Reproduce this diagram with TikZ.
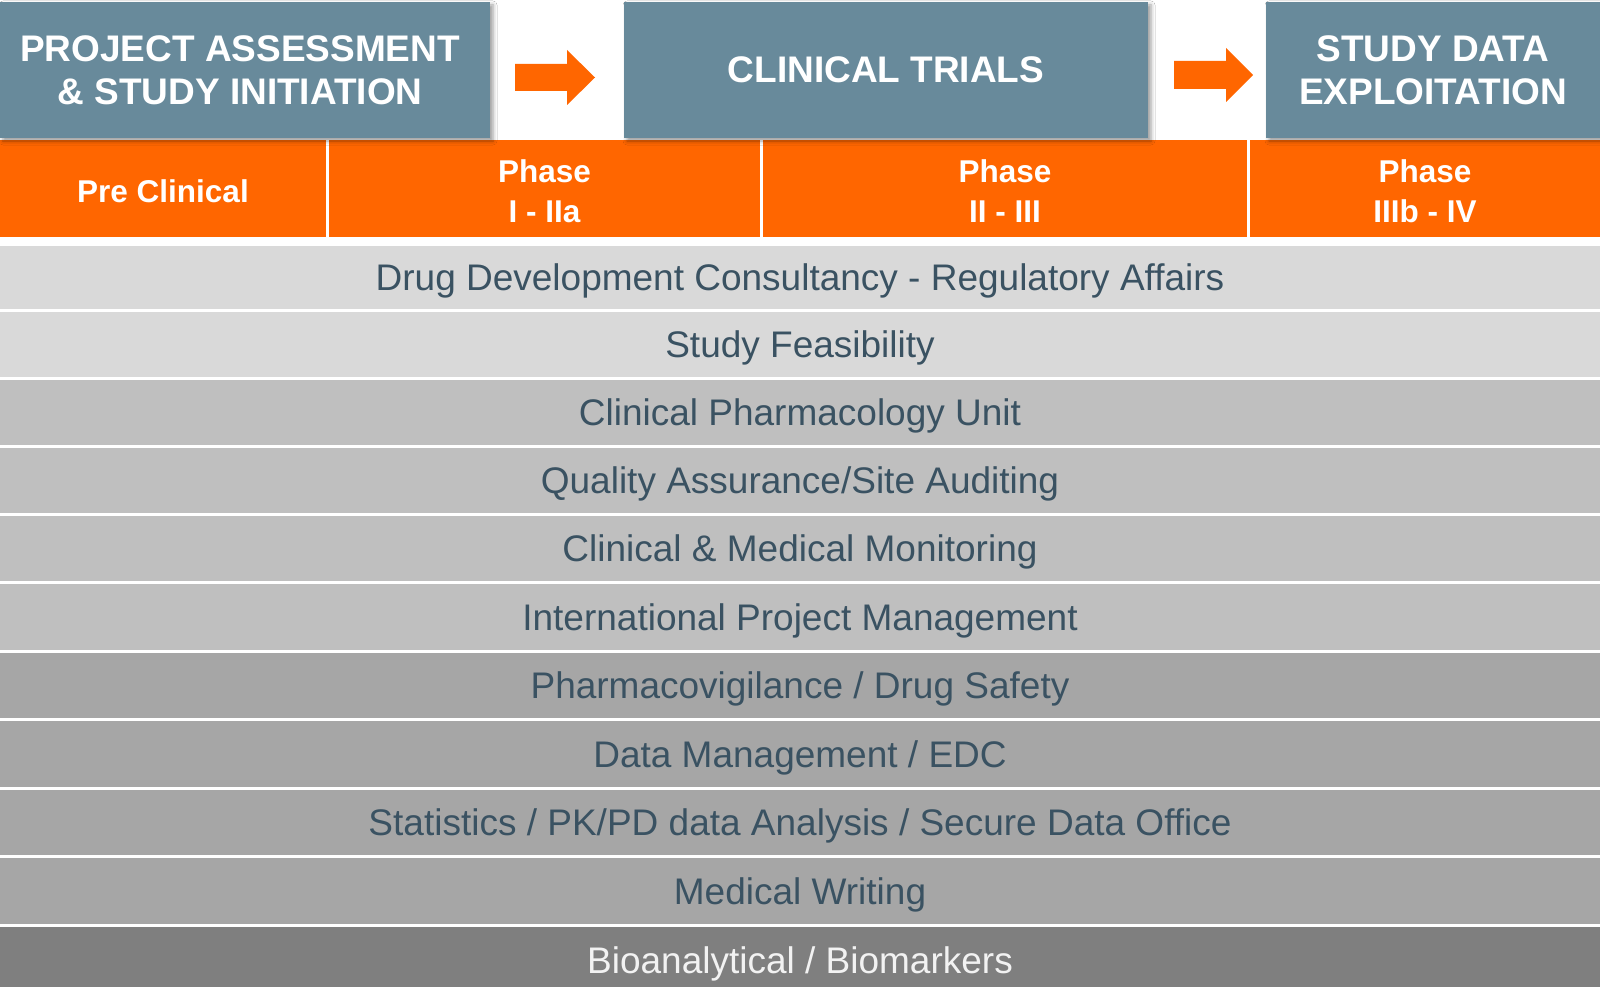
\documentclass[tikz,border=0pt]{standalone}
\usepackage{fontspec}
\setmainfont{Liberation Sans}
\usetikzlibrary{shadows.blur}

\definecolor{stageblue}{HTML}{688A9B}
\definecolor{brandorange}{HTML}{FF6600}
\definecolor{rowtext}{HTML}{3A5262}
\definecolor{rowA}{HTML}{D9D9D9}
\definecolor{rowB}{HTML}{BFBFBF}
\definecolor{rowC}{HTML}{A6A6A6}
\definecolor{rowD}{HTML}{7F7F7F}

\begin{document}
\begin{tikzpicture}[x=1pt,y=-1pt,
  stagebox/.style={fill=stageblue, inner sep=0pt, minimum height=136pt,
    blur shadow={shadow xshift=3pt, shadow yshift=-3pt,
      shadow blur radius=4pt, shadow opacity=40}},
  stagetext/.style={text=white, align=center, inner sep=0pt,
    font=\fontsize{37}{43}\selectfont\bfseries},
  phasecell/.style={fill=brandorange, inner sep=0pt, minimum height=97pt},
  phasetext/.style={text=white, align=center, inner sep=0pt,
    font=\fontsize{31.5}{40}\selectfont\bfseries},
  service/.style={inner sep=0pt, minimum width=1600pt, text=rowtext,
    font=\fontsize{37}{43}\selectfont, text height=26.5pt, text depth=0pt},
  flowarrow/.style={fill=brandorange}
]
\useasboundingbox (0,0) rectangle (1600,987);
\fill[white] (0,0) rectangle (1600,987);

% phase band
\node[phasecell, minimum width=326pt] (p1) at (163,188.5) {};
\node[phasecell, minimum width=431pt] (p2) at (544.5,188.5) {};
\node[phasecell, minimum width=484pt] (p3) at (1005,188.5) {};
\node[phasecell, minimum width=350pt] (p4) at (1425,188.5) {};
\node[phasetext] (t1) at ([yshift=-3pt]p1.center) {Pre Clinical};
\node[phasetext] (t2) at ([yshift=-3pt]p2.center) {Phase\\I - IIa};
\node[phasetext] (t3) at ([yshift=-3pt]p3.center) {Phase\\II - III};
\node[phasetext] (t4) at ([yshift=-3pt]p4.center) {Phase\\IIIb - IV};

% stage boxes
\node[stagebox, minimum width=490pt] (s1) at (245,70) {};
\node[stagebox, minimum width=524pt] (s2) at (886,70) {};
\node[stagebox, minimum width=334pt] (s3) at (1433,70) {};
\node[stagetext] (l1) at ([xshift=-5pt]s1.center) {PROJECT ASSESSMENT\\\& STUDY INITIATION};
\node[stagetext] (l2) at (s2.center) {CLINICAL TRIALS};
\node[stagetext] (l3) at (s3.center) {STUDY DATA\\EXPLOITATION};

% block arrows between stages
\fill[flowarrow] (515,64) -- (567,64) -- (567,50) -- (595,77.5) -- (567,105)
  -- (567,91) -- (515,91) -- cycle;
\fill[flowarrow] (1174,61) -- (1226,61) -- (1226,48) -- (1253,75) -- (1226,102)
  -- (1226,89) -- (1174,89) -- cycle;

% service rows
\node[service, fill=rowA, minimum height=63pt] (r1) at (800,277.5) {Drug Development Consultancy - Regulatory Affairs};
\node[service, fill=rowA, minimum height=65pt] (r2) at (800,344.5) {Study Feasibility};
\node[service, fill=rowB, minimum height=65pt] (r3) at (800,412.5) {Clinical Pharmacology Unit};
\node[service, fill=rowB, minimum height=65pt] (r4) at (800,480.5) {Quality Assurance/Site Auditing};
\node[service, fill=rowB, minimum height=65pt] (r5) at (800,548.5) {Clinical \& Medical Monitoring};
\node[service, fill=rowB, minimum height=66pt] (r6) at (800,617) {International Project Management};
\node[service, fill=rowC, minimum height=65pt] (r7) at (800,685.5) {Pharmacovigilance / Drug Safety};
\node[service, fill=rowC, minimum height=66pt] (r8) at (800,754) {Data Management / EDC};
\node[service, fill=rowC, minimum height=65pt] (r9) at (800,822.5) {Statistics / PK/PD data Analysis / Secure Data Office};
\node[service, fill=rowC, minimum height=66pt] (r10) at (800,891) {Medical Writing};
\node[service, fill=rowD, minimum height=60pt] (r11) at (800,957) {};
\node[service, fill=none, minimum height=0pt, text=white!95!black] (r11t) at ([yshift=-3pt]r11.center) {Bioanalytical / Biomarkers};
\end{tikzpicture}
\end{document}
